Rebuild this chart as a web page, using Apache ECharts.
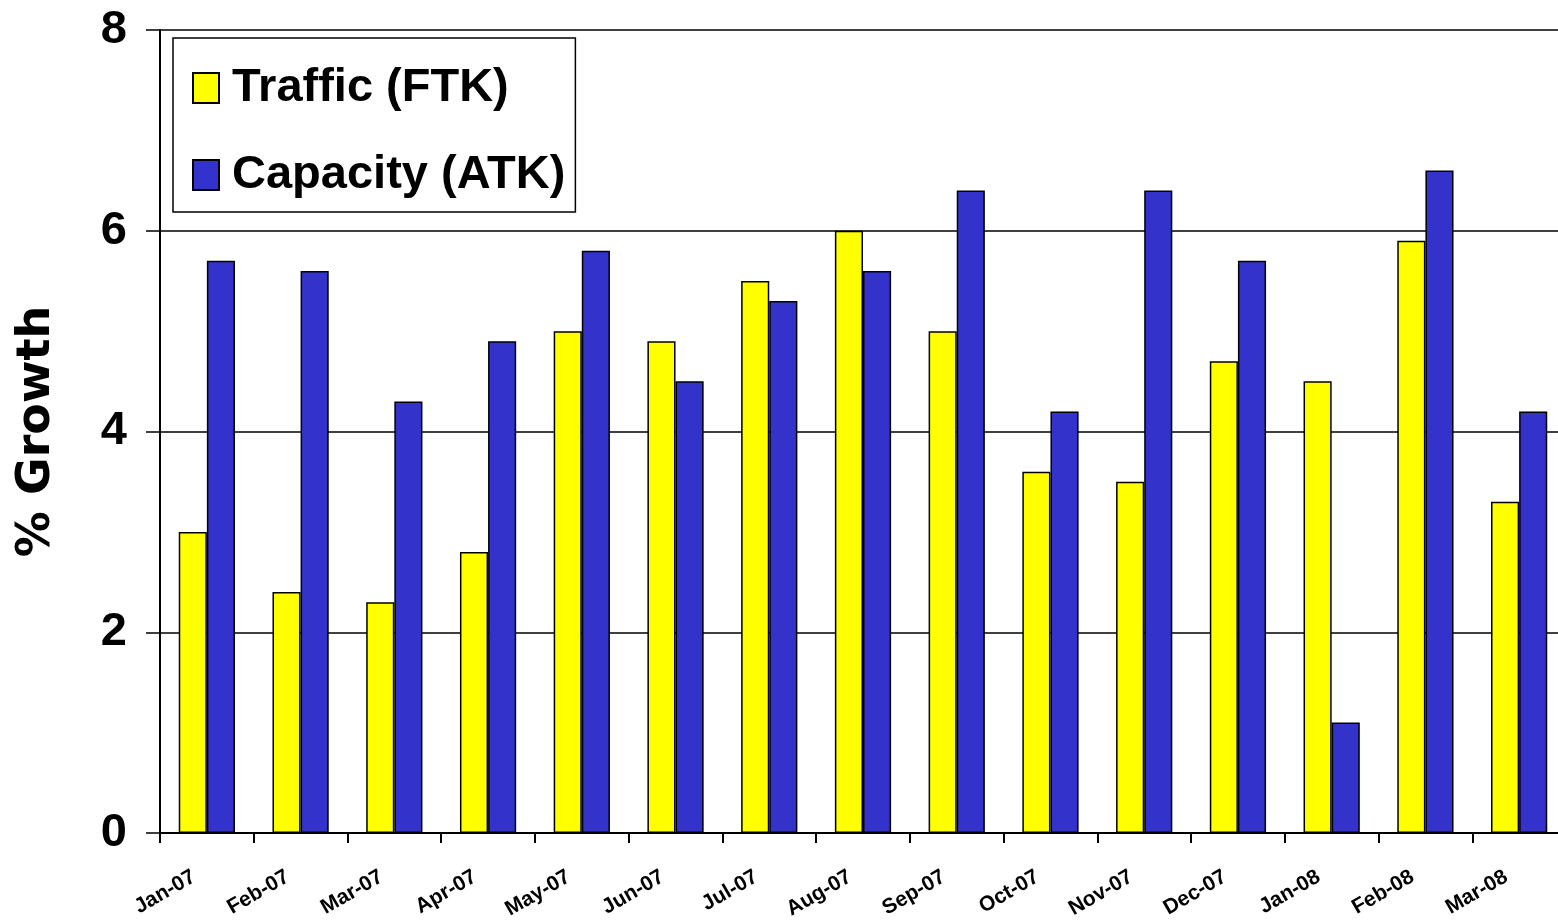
<!DOCTYPE html>
<html>
<head>
<meta charset="utf-8">
<script src="https://cdn.jsdelivr.net/npm/echarts@6/dist/echarts.min.js"></script>
<style>
html,body{margin:0;padding:0;background:#fff;}
#chart{width:1558px;height:920px;}
</style>
</head>
<body>
<div id="chart"></div>
<script>
const categories = ['Jan-07','Feb-07','Mar-07','Apr-07','May-07','Jun-07','Jul-07','Aug-07','Sep-07','Oct-07','Nov-07','Dec-07','Jan-08','Feb-08','Mar-08'];
const traffic = [3.0, 2.4, 2.3, 2.8, 5.0, 4.9, 5.5, 6.0, 5.0, 3.6, 3.5, 4.7, 4.5, 5.9, 3.3];
const capacity = [5.7, 5.6, 4.3, 4.9, 5.8, 4.5, 5.3, 5.6, 6.4, 4.2, 6.4, 5.7, 1.1, 6.6, 4.2];
const yTicks = [0, 2, 4, 6, 8];

const sans = "'Liberation Sans',Arial,sans-serif";
const chart = echarts.init(document.getElementById('chart'));
chart.setOption({
  animation: false,
  backgroundColor: '#fff',
  grid: { left: 160, top: 30, bottom: 87, right: -8, containLabel: false, outerBoundsMode: 'none' },
  legend: {
    orient: 'vertical',
    left: 173, top: 38,
    backgroundColor: '#fff',
    borderColor: '#000', borderWidth: 1.5,
    padding: [22, 10, 9, 19],
    itemWidth: 26, itemHeight: 30, itemGap: 31,
    icon: 'rect',
    textStyle: { fontFamily: sans, fontWeight: 'bold', fontSize: 47, lineHeight: 56, color: '#000', padding: [0, 0, 0, 8] }
  },
  xAxis: {
    type: 'category',
    data: categories,
    axisLine: { lineStyle: { color: '#000', width: 2 } },
    axisTick: { show: true, length: 10, lineStyle: { color: '#000', width: 2 } },
    axisLabel: {
      interval: 0, rotate: 30, margin: 35, padding: [0, 15, 0, 0],
      fontFamily: sans, fontWeight: 'bold', fontSize: 21, color: '#000'
    }
  },
  yAxis: {
    type: 'value', min: yTicks[0], max: yTicks[yTicks.length - 1], interval: 2,
    name: '% Growth', nameLocation: 'middle', nameGap: 100, nameRotate: 90,
    nameTextStyle: { fontFamily: "'DejaVu Sans',sans-serif", fontWeight: 'bold', fontSize: 46, color: '#000' },
    axisLine: { show: true, lineStyle: { color: '#000', width: 2 } },
    axisTick: { show: true, length: 14, lineStyle: { color: '#000', width: 1.5 } },
    axisLabel: { margin: 33, fontFamily: sans, fontWeight: 'bold', fontSize: 47, color: '#000' },
    splitLine: { show: true, lineStyle: { color: '#000', width: 1.5 } }
  },
  series: [
    { name: 'Traffic (FTK)', type: 'bar', data: traffic, barGap: '0%', barCategoryGap: '40%',
      itemStyle: { color: '#FFFF00', borderColor: '#000', borderWidth: 1.5 } },
    { name: 'Capacity (ATK)', type: 'bar', data: capacity, barGap: '0%', barCategoryGap: '40%',
      itemStyle: { color: '#3333CC', borderColor: '#000', borderWidth: 1.5 } }
  ]
});
</script>
</body>
</html>
